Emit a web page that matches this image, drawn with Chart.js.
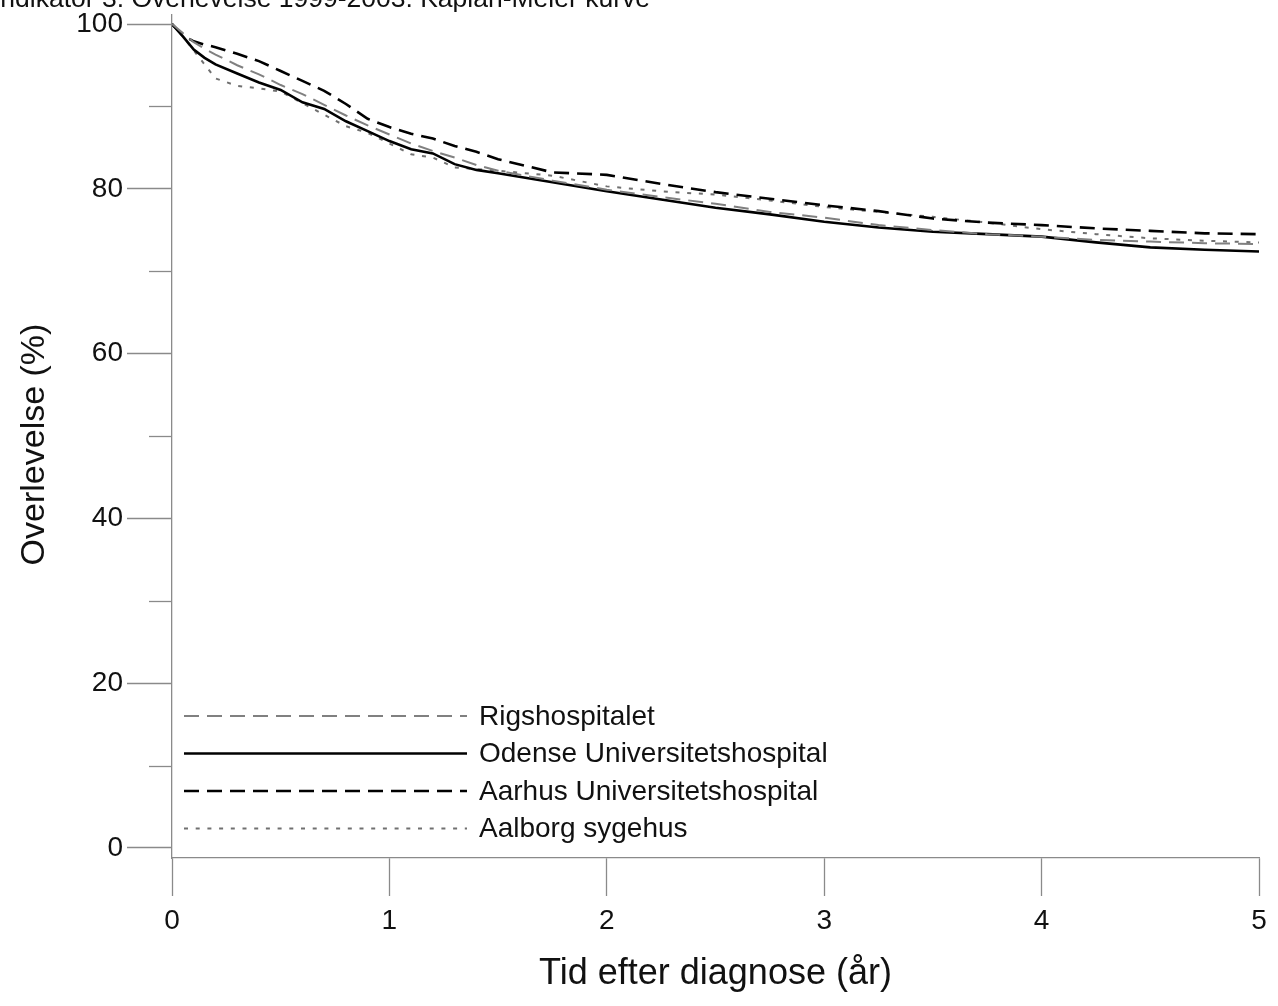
<!DOCTYPE html>
<html lang="da">
<head>
<meta charset="utf-8">
<title>Overlevelse - Kaplan-Meier kurve</title>
<script src="https://cdn.jsdelivr.net/npm/chart.js@4/dist/chart.umd.min.js"></script>
<style>
  html, body { margin: 0; padding: 0; background: #fff; }
  canvas { display: block; }
</style>
</head>
<body>
<canvas id="grafKM" width="1278" height="1006"></canvas>
<script>
// Tid efter diagnose (år) og overlevelse (%) aflæst fra kurverne
const tid = [0, 0.05, 0.1, 0.15, 0.2, 0.3, 0.4, 0.5, 0.6, 0.7, 0.8, 0.9, 1.0, 1.1, 1.2, 1.3, 1.4, 1.5,
             1.75, 2.0, 2.25, 2.5, 2.75, 3.0, 3.25, 3.5, 3.75, 4.0, 4.25, 4.5, 4.75, 5.0];
const rigshospitalet = [100, 98.9, 97.8, 97.0, 96.3, 95.0, 93.9, 92.6, 91.5, 90.2, 88.9, 87.7, 86.6, 85.5, 84.6, 83.8, 82.9, 82.2,
                        81.0, 79.9, 79.0, 78.2, 77.2, 76.5, 75.6, 75.0, 74.5, 74.2, 73.8, 73.6, 73.4, 73.3];
const odense = [100, 98.5, 96.9, 95.9, 95.1, 94.0, 92.9, 92.0, 90.5, 89.7, 88.2, 87.0, 85.8, 84.8, 84.3, 83.0, 82.3, 81.9,
                80.8, 79.7, 78.7, 77.7, 76.9, 76.0, 75.3, 74.8, 74.5, 74.2, 73.5, 72.9, 72.6, 72.4];
const aarhus = [100, 98.6, 97.9, 97.5, 97.2, 96.4, 95.5, 94.3, 93.1, 91.9, 90.3, 88.5, 87.5, 86.7, 86.1, 85.2, 84.5, 83.6,
                82.0, 81.7, 80.6, 79.6, 78.8, 78.0, 77.3, 76.4, 75.9, 75.6, 75.2, 74.9, 74.6, 74.5];
const aalborg = [100, 98.5, 96.8, 95.1, 93.4, 92.5, 92.2, 91.8, 90.4, 89.0, 87.6, 86.8, 85.5, 84.2, 83.8, 82.6, 82.4, 82.2,
                 81.6, 80.3, 79.7, 79.3, 78.6, 77.8, 77.2, 76.6, 75.9, 75.1, 74.5, 74.0, 73.7, 73.5];

const hospitaler = ['Rigshospitalet', 'Odense Universitetshospital', 'Aarhus Universitetshospital', 'Aalborg sygehus'];
const xTicks = [0, 1, 2, 3, 4, 5];
const yTicks = [0, 10, 20, 30, 40, 50, 60, 70, 80, 90, 100];

const overskrift = 'Indikator 3. Overlevelse 1999-2003. Kaplan-Meier kurve';
const xTitel = 'Tid efter diagnose (år)';
const yTitel = 'Overlevelse (%)';

const aksefarve = '#8a8a8a';
const tekstfarve = '#111';
const skrift = "'Liberation Sans', Arial, Helvetica, sans-serif";

Chart.defaults.font.family = skrift;
Chart.defaults.color = tekstfarve;

function punkter(v) {
    return tid.map((t, i) => ({ x: t, y: v[i] }));
}

// korte mellemstreger på y-aksen (10, 30, 50 ...)
const mellemStreger = {
    id: 'mellemStreger',
    afterDraw(chart) {
        const y = chart.scales.y;
        const ctx = chart.ctx;
        const venstre = chart.chartArea.left;
        ctx.save();
        ctx.strokeStyle = aksefarve;
        ctx.lineWidth = 1.3;
        yTicks.filter(v => v % 20 !== 0).forEach(v => {
            const py = Math.round(y.getPixelForValue(v)) + 0.5;
            ctx.beginPath();
            ctx.moveTo(venstre - 23, py);
            ctx.lineTo(venstre, py);
            ctx.stroke();
        });
        ctx.restore();
    }
};

// forklaring inde i plottet, nederst til venstre
const forklaring = {
    id: 'forklaring',
    afterDraw(chart) {
        const ctx = chart.ctx;
        const a = chart.chartArea;
        const x0 = a.left + 12;
        const x1 = a.left + 295;
        ctx.save();
        ctx.font = '28px ' + skrift;
        ctx.textBaseline = 'middle';
        ctx.textAlign = 'left';
        chart.data.datasets.forEach((ds, i) => {
            const py = a.bottom - 142 + i * 37.5;
            ctx.beginPath();
            ctx.setLineDash(ds.borderDash || []);
            ctx.strokeStyle = ds.borderColor;
            ctx.lineWidth = ds.borderWidth;
            ctx.moveTo(x0, py);
            ctx.lineTo(x1, py);
            ctx.stroke();
            ctx.setLineDash([]);
            ctx.fillStyle = tekstfarve;
            ctx.fillText(ds.label, x1 + 12, py + 1);
        });
        ctx.restore();
    }
};

// afskåret overskrift helt øverst og lodret aksetitel
const tekster = {
    id: 'tekster',
    afterDraw(chart) {
        const ctx = chart.ctx;
        const a = chart.chartArea;
        ctx.save();
        ctx.font = '26.5px ' + skrift;
        ctx.fillStyle = tekstfarve;
        ctx.textBaseline = 'alphabetic';
        ctx.textAlign = 'left';
        ctx.fillText(overskrift, -7, 6.5);

        ctx.translate(35, (a.top + a.bottom) / 2 + 8);
        ctx.rotate(-Math.PI / 2);
        ctx.font = '34px ' + skrift;
        ctx.textAlign = 'center';
        ctx.textBaseline = 'middle';
        ctx.fillText(yTitel, 0, 0);
        ctx.restore();
    }
};

new Chart(document.getElementById('grafKM'), {
    type: 'line',
    data: {
        datasets: [
            { label: hospitaler[0], data: punkter(rigshospitalet), borderColor: '#808080', borderWidth: 2, borderDash: [15, 8] },
            { label: hospitaler[1], data: punkter(odense), borderColor: '#000', borderWidth: 2.6 },
            { label: hospitaler[2], data: punkter(aarhus), borderColor: '#000', borderWidth: 2.6, borderDash: [15, 8] },
            { label: hospitaler[3], data: punkter(aalborg), borderColor: '#707070', borderWidth: 2, borderDash: [4, 7.7] }
        ]
    },
    options: {
        responsive: false,
        animation: false,
        events: [],
        layout: { padding: { top: 15, right: 19, left: 0, bottom: 0 } },
        elements: { point: { radius: 0 }, line: { tension: 0 } },
        plugins: {
            legend: { display: false },
            tooltip: { enabled: false }
        },
        scales: {
            x: {
                type: 'linear',
                min: 0,
                max: 5,
                afterBuildTicks: s => { s.ticks = xTicks.map(v => ({ value: v })); },
                afterFit: s => { s.height = 148; s.paddingLeft = 0; s.paddingRight = 0; },
                grid: { drawOnChartArea: false, drawTicks: true, tickLength: 38, tickColor: aksefarve, tickWidth: 1.3 },
                border: { display: true, color: aksefarve, width: 1.3 },
                ticks: { padding: 8, color: tekstfarve, font: { size: 28 }, maxRotation: 0, autoSkip: false },
                title: { display: true, text: xTitel, color: tekstfarve, font: { size: 36 }, padding: { top: 0, bottom: 10 } }
            },
            y: {
                type: 'linear',
                min: -1.214,
                max: 101.1,
                afterBuildTicks: s => { s.ticks = yTicks.map(v => ({ value: v })); },
                afterFit: s => { s.width = 172; s.paddingTop = 0; s.paddingBottom = 0; },
                grid: {
                    drawOnChartArea: false,
                    drawTicks: true,
                    tickLength: 45,
                    tickWidth: 1.3,
                    tickColor: c => (c.tick && c.tick.value % 20 === 0) ? aksefarve : 'rgba(0,0,0,0)'
                },
                border: { display: true, color: aksefarve, width: 1.3 },
                ticks: {
                    padding: 4,
                    color: tekstfarve,
                    font: { size: 28 },
                    autoSkip: false,
                    callback: v => (v % 20 === 0 ? String(v) : '')
                },
                title: { display: false }
            }
        }
    },
    plugins: [mellemStreger, forklaring, tekster]
});
</script>
</body>
</html>
